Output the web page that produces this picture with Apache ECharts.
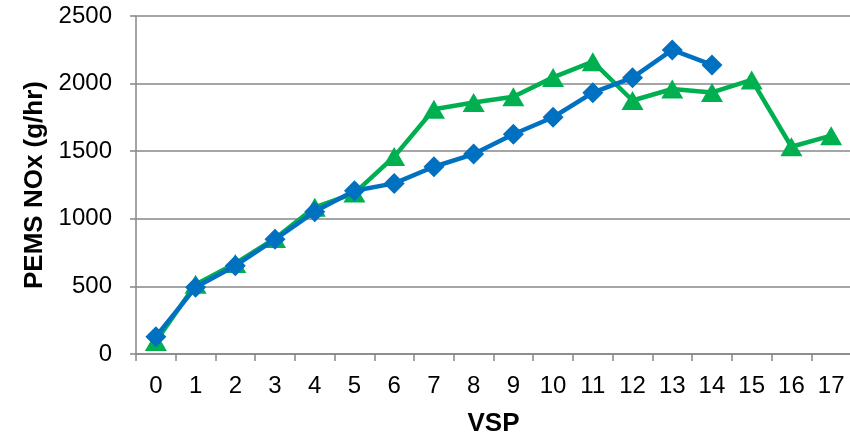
<!DOCTYPE html>
<html>
<head>
<meta charset="utf-8">
<script src="https://cdn.jsdelivr.net/npm/echarts@6/dist/echarts.min.js"></script>
<style>
  html, body { margin: 0; padding: 0; background: #fff; }
  #chart { width: 850px; height: 438px; }
</style>
</head>
<body>
<div id="chart"></div>
<script>
// VSP bins on the x axis
const vspBins = ['0','1','2','3','4','5','6','7','8','9','10','11','12','13','14','15','16','17'];
// PEMS NOx rate per VSP bin (g/hr)
const blueSeries = [128, 493, 653, 848, 1053, 1208, 1262, 1385, 1479, 1625, 1751, 1933, 2044, 2249, 2138];
const greenSeries = [92, 515, 670, 855, 1085, 1190, 1460, 1810, 1860, 1903, 2046, 2162, 1875, 1960, 1935, 2027, 1533, 1615];
const yTicks = { min: 0, max: 2500, interval: 500 };

const gridGray = '#878787';
const fontFamily = 'Liberation Sans, Arial, sans-serif';
const labelFont = { fontFamily: fontFamily, fontSize: 24, color: '#000' };
const titleFont = { fontFamily: fontFamily, fontSize: 26, fontWeight: 'bold', color: '#000' };

const chart = echarts.init(document.getElementById('chart'), null, { renderer: 'canvas' });
chart.setOption({
  animation: false,
  backgroundColor: '#fff',
  grid: { left: 136, top: 16, right: -1, bottom: 84, containLabel: false, outerBoundsMode: 'none' },
  xAxis: {
    type: 'category',
    data: vspBins,
    boundaryGap: true,
    name: 'VSP',
    nameLocation: 'middle',
    nameGap: 57,
    nameTextStyle: titleFont,
    axisLine: { lineStyle: { color: gridGray, width: 1.5 } },
    axisTick: { show: true, length: 7, lineStyle: { color: gridGray, width: 1.5 }, alignWithLabel: false },
    axisLabel: Object.assign({ margin: 20, interval: 0 }, labelFont),
    splitLine: { show: false }
  },
  yAxis: {
    type: 'value',
    min: yTicks.min,
    max: yTicks.max,
    interval: yTicks.interval,
    name: 'PEMS NOx (g/hr)',
    nameLocation: 'middle',
    nameRotate: 90,
    nameGap: 81,
    nameTextStyle: titleFont,
    axisLine: { show: true, lineStyle: { color: gridGray, width: 1.5 } },
    axisTick: { show: true, length: 6, lineStyle: { color: gridGray, width: 1.5 } },
    axisLabel: Object.assign({ margin: 24, formatter: function (v) { return String(v); } }, labelFont),
    splitLine: { show: true, lineStyle: { color: gridGray, width: 1.5 } }
  },
  series: [
    {
      type: 'line',
      data: greenSeries,
      symbol: 'triangle',
      symbolSize: [22, 19],
      itemStyle: { color: '#00B050' },
      lineStyle: { color: '#00B050', width: 4.5 },
      z: 2
    },
    {
      type: 'line',
      data: blueSeries,
      symbol: 'diamond',
      symbolSize: [21, 21],
      itemStyle: { color: '#0070C0' },
      lineStyle: { color: '#0070C0', width: 4.5 },
      z: 3
    }
  ]
});
</script>
</body>
</html>
